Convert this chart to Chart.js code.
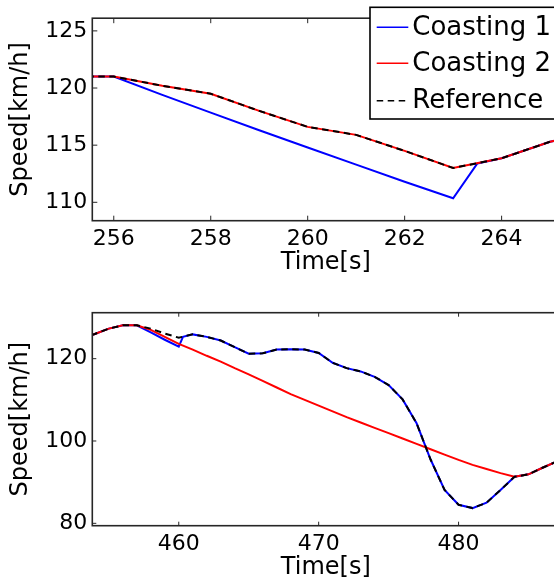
<!DOCTYPE html>
<html><head><meta charset="utf-8">
<script src="https://cdn.jsdelivr.net/npm/chart.js@4"></script>
<style>
html,body{margin:0;padding:0;background:#fff;overflow:hidden;width:554px;height:588px;position:relative;}
#c1{position:absolute;left:0;top:0;}
#c2{position:absolute;left:0;top:290px;}
</style></head><body>
<canvas id="c1" width="600" height="290"></canvas>
<canvas id="c2" width="600" height="298"></canvas>
<script>
// ---------- Data: upper panel ----------
const seriesNames = ['Coasting 1', 'Coasting 2', 'Reference'];
const topRefTime   = [255, 256, 257, 258, 259, 260, 261, 262, 263, 264, 265, 266];
const topRefSpeed  = [121.0, 121.0, 120.2, 119.5, 118.0, 116.6, 115.9, 114.5, 113.0, 113.85, 115.3, 116.2];
const topC2Time    = [255, 256, 257, 258, 259, 260, 261, 262, 263, 264, 265, 266];
const topC2Speed   = [121.0, 121.0, 120.2, 119.5, 118.0, 116.6, 115.9, 114.5, 113.0, 113.85, 115.3, 116.2];
const topC1Time    = [255, 256, 257, 258, 259, 260, 261, 262, 263, 263.5, 264, 265, 266];
const topC1Speed   = [121.0, 121.0, 119.4, 117.85, 116.3, 114.8, 113.3, 111.8, 110.35, 113.4, 113.85, 115.3, 116.2];
const topXTickStep = 2;
const topYTickStep = 5;

// ---------- Data: lower panel ----------
const botRefTime  = [453, 454, 455, 456, 457, 458, 459, 460, 461, 462, 463, 464, 465, 466, 467, 468, 469, 470,
                     471, 472, 473, 474, 475, 476, 477, 478, 479, 480, 481, 482, 483, 484, 485, 486, 487, 488];
const botRefSpeed = [124.8, 126.0, 127.3, 128.1, 128.1, 127.3, 126.1, 125.1, 125.9, 125.3, 124.4, 122.8, 121.2, 121.3, 122.2, 122.3, 122.2, 121.4,
                     119.0, 117.7, 116.9, 115.6, 113.6, 110.1, 104.3, 95.5, 88.1, 84.5, 83.7, 85.0, 88.1, 91.3, 91.9, 93.5, 95.0, 96.5];
const botC1Time   = [453, 454, 455, 456, 457, 458, 459, 460, 460.3, 461, 462, 463, 464, 465, 466, 467, 468, 469, 470,
                     471, 472, 473, 474, 475, 476, 477, 478, 479, 480, 481, 482, 483, 484, 485, 486, 487, 488];
const botC1Speed  = [124.8, 126.0, 127.3, 128.1, 128.1, 126.4, 124.6, 122.9, 125.3, 125.9, 125.3, 124.4, 122.8, 121.2, 121.3, 122.2, 122.3, 122.2, 121.4,
                     119.0, 117.7, 116.9, 115.6, 113.6, 110.1, 104.3, 95.5, 88.1, 84.5, 83.7, 85.0, 88.1, 91.3, 91.9, 93.5, 95.0, 96.5];
const botC2Time   = [453, 454, 455, 456, 457, 458, 459, 460, 461, 462, 463, 464, 465, 466, 467, 468, 469, 470,
                     471, 472, 473, 474, 475, 476, 477, 478, 479, 480, 481, 482, 483, 484, 485, 486, 487, 488];
const botC2Speed  = [124.8, 126.0, 127.3, 128.1, 128.1, 127.0, 125.3, 123.6, 122.2, 120.7, 119.3, 117.7, 116.2, 114.6, 113.0, 111.4, 110.0, 108.6,
                     107.2, 105.8, 104.5, 103.2, 101.9, 100.6, 99.3, 98.0, 96.7, 95.4, 94.2, 93.2, 92.2, 91.3, 91.9, 93.5, 95.0, 96.5];
const botXTickStep = 10;
const botYTickStep = 20;

const xLabel = 'Time[s]';
const yLabel = 'Speed[km/h]';

// ---------- helpers ----------
const pts = (xs, ys) => xs.map((t, i) => ({x: t, y: ys[i]}));
const FONT = "'DejaVu Sans', 'Liberation Sans', sans-serif";
Chart.defaults.font.family = FONT;
Chart.defaults.color = '#000';

function makeDatasets(c1t, c1v, c2t, c2v, rt, rv) {
  return [
    {label: seriesNames[0], data: pts(c1t, c1v), borderColor: '#0000ff', borderWidth: 2, pointRadius: 0, tension: 0, fill: false, order: 2},
    {label: seriesNames[1], data: pts(c2t, c2v), borderColor: '#ff0000', borderWidth: 2, pointRadius: 0, tension: 0, fill: false, order: 1},
    {label: seriesNames[2], data: pts(rt, rv), borderColor: '#000000', borderWidth: 2, borderDash: [6.5, 4.5], pointRadius: 0, tension: 0, fill: false, order: 0}
  ];
}

const framePlugin = {
  id: 'mlFrame',
  afterDatasetsDraw(chart, args, opts) {
    const {ctx, chartArea: a, scales: {x, y}} = chart;
    const L = opts.tickLen || 5;
    ctx.save();
    ctx.strokeStyle = '#262626';
    ctx.lineWidth = 1;
    ctx.beginPath();
    x.ticks.forEach(t => {
      const p = x.getPixelForValue(t.value);
      ctx.moveTo(p, a.bottom); ctx.lineTo(p, a.bottom - L);
      ctx.moveTo(p, a.top); ctx.lineTo(p, a.top + L);
    });
    y.ticks.forEach(t => {
      const p = y.getPixelForValue(t.value);
      ctx.moveTo(a.left, p); ctx.lineTo(a.left + L, p);
      ctx.moveTo(a.right, p); ctx.lineTo(a.right - L, p);
    });
    ctx.stroke();
    ctx.lineWidth = 1.6;
    ctx.strokeRect(a.left, a.top, a.right - a.left, a.bottom - a.top);
    ctx.restore();
  }
};

const legendPlugin = {
  id: 'mlLegend',
  afterDraw(chart, args, opts) {
    if (!opts || !opts.show) return;
    const ctx = chart.ctx;
    const box = opts.box;
    ctx.save();
    ctx.fillStyle = '#fff';
    ctx.fillRect(box.left, box.top, box.right - box.left, box.bottom - box.top);
    ctx.strokeStyle = '#000';
    ctx.lineWidth = 1.6;
    ctx.strokeRect(box.left, box.top, box.right - box.left, box.bottom - box.top);
    ctx.font = '26px ' + FONT;
    ctx.textBaseline = 'middle';
    ctx.textAlign = 'left';
    chart.data.datasets.forEach((ds, i) => {
      const yy = opts.rows[i];
      ctx.beginPath();
      ctx.strokeStyle = ds.borderColor;
      ctx.lineWidth = 1.6;
      ctx.setLineDash(ds.borderDash || []);
      ctx.moveTo(opts.lineX0, yy); ctx.lineTo(opts.lineX1, yy);
      ctx.stroke();
      ctx.setLineDash([]);
      ctx.fillStyle = '#000';
      ctx.fillText(ds.label, opts.textX, yy + 1);
    });
    ctx.restore();
  }
};

function makeChart(canvas, datasets, xr, yr, xStep, yStep, layout, legendOpts) {
  return new Chart(canvas, {
    type: 'line',
    data: {datasets},
    options: {
      responsive: false,
      animation: false,
      devicePixelRatio: 1,
      layout: {padding: {left: 0, top: layout.top, right: layout.right, bottom: 0}},
      scales: {
        x: {
          type: 'linear', min: xr[0], max: xr[1],
          ticks: {stepSize: xStep, includeBounds: false, padding: 5, font: {size: 22}, color: '#000', maxRotation: 0},
          grid: {display: false, drawTicks: false},
          border: {display: false},
          title: {display: true, text: xLabel, color: '#000', font: {size: 24}, padding: {top: 0, bottom: layout.xTitlePad}},
          afterFit(s) { s.height = layout.xHeight; }
        },
        y: {
          type: 'linear', min: yr[0], max: yr[1],
          ticks: {stepSize: yStep, includeBounds: false, padding: 5, font: {size: 22}, color: '#000'},
          grid: {display: false, drawTicks: false},
          border: {display: false},
          title: {display: true, text: yLabel, color: '#000', font: {size: 24}, padding: {top: 6.8, bottom: 0}},
          afterFit(s) { s.width = 92.3; }
        }
      },
      plugins: {
        legend: {display: false},
        tooltip: {enabled: false},
        mlFrame: {tickLen: layout.tickLen},
        mlLegend: legendOpts
      }
    },
    plugins: [framePlugin, legendPlugin]
  });
}

makeChart(document.getElementById('c1'),
  makeDatasets(topC1Time, topC1Speed, topC2Time, topC2Speed, topRefTime, topRefSpeed),
  [255.557, 265.19], [108.39, 126.11], topXTickStep, topYTickStep,
  {top: 7.3, right: 40.7, xHeight: 69.3, xTitlePad: 12.6, tickLen: 5},
  {show: true, box: {left: 370, top: 7.3, right: 557, bottom: 119},
   rows: [27.3, 63.3, 100.7], lineX0: 376.7, lineX1: 408.3, textX: 412.3});

makeChart(document.getElementById('c2'),
  makeDatasets(botC1Time, botC1Speed, botC2Time, botC2Speed, botRefTime, botRefSpeed),
  [453.82, 487.2], [79.42, 131.17], botXTickStep, botYTickStep,
  {top: 22.7, right: 40.7, xHeight: 62.3, xTitlePad: 5.6, tickLen: 4},
  {show: false});
</script>
</body></html>
